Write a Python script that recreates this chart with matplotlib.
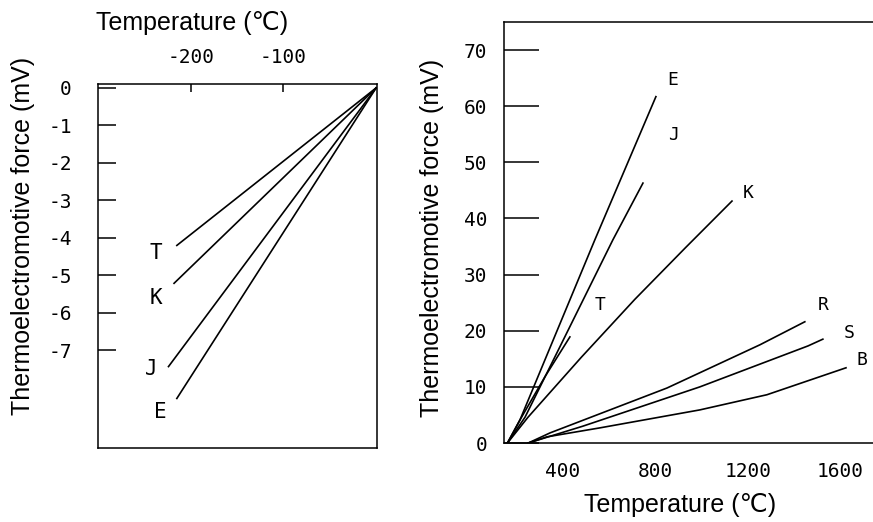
import matplotlib.pyplot as plt

plt.rcParams['font.family'] = ['Liberation Sans', 'DejaVu Sans']

# left panel: below 0 degC
low_temp_ticks = [-200, -100]
low_temp_labels = ['-200', '-100']
low_emf_ticks = [0, -1, -2, -3, -4, -5, -6, -7]
low_emf_labels = ['0', '-1', '-2', '-3', '-4', '-5', '-6', '-7']
low_names = ['T', 'K', 'J', 'E']
low_x = {'T': [0, -215], 'K': [0, -218], 'J': [0, -224], 'E': [0, -215]}
low_y = {'T': [0, -4.2], 'K': [0, -5.21], 'J': [0, -7.43], 'E': [0, -8.28]}
low_lab = {'T': (-238, -4.39), 'K': (-238, -5.59), 'J': (-243, -7.5), 'E': (-233, -8.65)}

# right panel: above 0 degC
high_temp_ticks = [400, 800, 1200, 1600]
high_emf_ticks = [0, 10, 20, 30, 40, 50, 60, 70]
high_names = ['E', 'J', 'T', 'K', 'R', 'S', 'B']
high_x = {
    'E': [160, 214, 538, 802],
    'J': [160, 236, 616, 746],
    'T': [160, 214, 322, 430],
    'K': [160, 249, 480, 711, 930, 1131],
    'R': [250, 344, 850, 1252, 1446],
    'S': [250, 486, 992, 1460, 1524],
    'B': [250, 331, 560, 992, 1282, 1624],
}
high_y = {
    'E': [0, 4.1, 36.2, 61.7],
    'J': [0, 4.6, 36.2, 46.3],
    'T': [0, 4.1, 11.8, 18.9],
    'K': [0, 4.6, 15.3, 25.6, 34.8, 43.1],
    'R': [0, 1.8, 9.8, 17.5, 21.6],
    'S': [0, 3.0, 10.0, 17.3, 18.5],
    'B': [0, 1.1, 2.7, 5.9, 8.6, 13.4],
}
high_lab = {'E': (876, 64.7), 'J': (876, 54.9), 'T': (560, 24.6), 'K': (1200, 44.6),
            'R': (1524, 24.6), 'S': (1637, 19.6), 'B': (1693, 14.8)}

fig = plt.figure(figsize=(8.73, 5.22), dpi=100)
tick_font = 'DejaVu Sans Mono'

ax1 = fig.add_axes([0.1123, 0.1418, 0.3196, 0.697])
for n in low_names:
    ax1.plot(low_x[n], low_y[n], color='black', lw=1.2)
    ax1.text(low_lab[n][0], low_lab[n][1], n, fontsize=15, family=tick_font,
             ha='center', va='center')
ax1.set_xlim(-300, 1)
ax1.set_ylim(-9.6, 0.1)
ax1.xaxis.tick_top()
ax1.set_xticks(low_temp_ticks)
ax1.set_xticklabels(low_temp_labels, family=tick_font, fontsize=14)
ax1.set_yticks(low_emf_ticks)
ax1.set_yticklabels(low_emf_labels, family=tick_font, fontsize=14)
ax1.tick_params(axis='x', direction='in', length=6, width=1.1, pad=12)
ax1.tick_params(axis='y', direction='in', length=13, width=1.1, pad=19)
for s in ax1.spines.values():
    s.set_linewidth(1.1)

ax2 = fig.add_axes([0.5773, 0.1513, 0.4307, 0.8066])
for n in high_names:
    ax2.plot(high_x[n], high_y[n], color='black', lw=1.2)
    ax2.text(high_lab[n][0], high_lab[n][1], n, fontsize=13, family=tick_font,
             ha='center', va='center')
ax2.set_xlim(145, 1771)
ax2.set_ylim(0, 75)
ax2.set_xticks(high_temp_ticks)
ax2.set_xticklabels([str(v) for v in high_temp_ticks], family=tick_font, fontsize=14)
ax2.set_yticks(high_emf_ticks)
ax2.set_yticklabels([str(v) for v in high_emf_ticks], family=tick_font, fontsize=14)
ax2.tick_params(axis='x', length=0, pad=14)
ax2.tick_params(axis='y', direction='in', length=25, width=1.1, pad=12)
ax2.spines['right'].set_visible(False)
for s in ax2.spines.values():
    s.set_linewidth(1.1)

fig.text(192 / 873, 1 - 23 / 522, 'Temperature (℃)', fontsize=18, ha='center', va='center')
fig.text(23 / 873, 1 - 236 / 522, 'Thermoelectromotive force (mV)', fontsize=18,
         rotation=90, ha='center', va='center')
fig.text(432 / 873, 1 - 238 / 522, 'Thermoelectromotive force (mV)', fontsize=18,
         rotation=90, ha='center', va='center')
fig.text(680 / 873, 1 - 505 / 522, 'Temperature (℃)', fontsize=18, ha='center', va='center')

fig.savefig('out.png', dpi=100)
